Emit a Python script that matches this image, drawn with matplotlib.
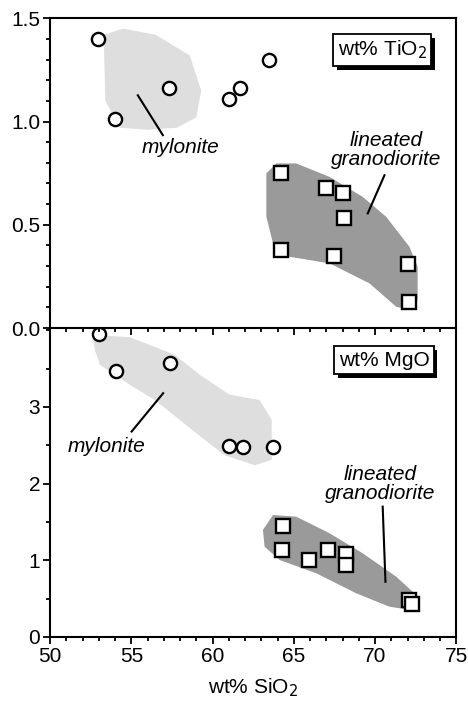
import matplotlib
matplotlib.use("Agg")
import matplotlib.pyplot as plt
import matplotlib.patheffects as pe
from matplotlib.patches import Polygon
from matplotlib.ticker import MultipleLocator

plt.rcParams['font.family'] = ['Liberation Sans', 'DejaVu Sans']

# ==== Data (wt% oxides) ====
# mylonite samples
myl_sio2_ti = [52.95, 54.0, 57.3, 61.0, 61.7, 63.5]
myl_tio2 = [1.40, 1.01, 1.16, 1.11, 1.16, 1.30]
myl_sio2_mg = [53.0, 54.05, 57.37, 61.0, 61.87, 63.7]
myl_mgo = [3.95, 3.47, 3.57, 2.49, 2.48, 2.48]

# lineated granodiorite samples
gd_sio2_ti = [64.23, 67.0, 68.0, 68.08, 64.23, 67.5, 72.0, 72.07]
gd_tio2 = [0.75, 0.676, 0.655, 0.531, 0.378, 0.349, 0.308, 0.127]
gd_sio2_mg = [64.33, 64.3, 65.93, 67.1, 68.2, 68.2, 72.1, 72.3]
gd_mgo = [1.45, 1.13, 1.0, 1.13, 1.08, 0.94, 0.48, 0.43]

# shaded fields (outline vertices, data coords)
myl_field_ti_x = [53.3, 54.5, 56.5, 58.6, 59.3, 59.0, 57.8, 56.0, 54.3, 53.4]
myl_field_ti_y = [1.42, 1.45, 1.42, 1.32, 1.15, 1.02, 0.97, 0.96, 0.97, 1.10]
gd_field_ti_x = [63.31, 63.93, 65.15, 67.2, 69.24, 70.68, 72.11, 72.62, 72.62, 72.22,
                 71.3, 69.66, 67.2, 64.74, 63.72, 63.31]
gd_field_ti_y = [0.749, 0.797, 0.797, 0.732, 0.635, 0.539, 0.394, 0.297, 0.136, 0.087,
                 0.103, 0.216, 0.313, 0.345, 0.41, 0.539]
myl_field_mg_x = [52.64, 54.91, 57.68, 59.21, 61.06, 62.9, 63.64, 63.64, 62.59, 60.75,
                  59.52, 57.99, 56.45, 54.91, 53.07, 52.76]
myl_field_mg_y = [3.94, 3.91, 3.68, 3.42, 3.16, 3.09, 2.83, 2.31, 2.24, 2.37,
                  2.57, 2.83, 3.09, 3.29, 3.55, 3.74]
gd_field_mg_x = [63.1, 63.72, 65.15, 67.2, 69.24, 71.3, 72.42, 72.73, 72.22, 70.88,
                 68.84, 66.38, 64.13, 63.2]
gd_field_mg_y = [1.396, 1.591, 1.569, 1.353, 1.092, 0.787, 0.57, 0.395, 0.352, 0.395,
                 0.57, 0.831, 1.004, 1.178]

# ==== Figure ====
fig = plt.figure(figsize=(4.68, 7.03), dpi=100)
ax2 = fig.add_axes([0.107, 0.0939, 0.868, 0.4395])
ax1 = fig.add_axes([0.107, 0.5334, 0.868, 0.4406], sharex=ax2)
ax2.patch.set_alpha(0)

MYL_COL = '#dedede'
GD_COL = '#9a9a9a'
FS = 15


def draw_panel(ax, mx, my, gx, gy, mfx, mfy, gfx, gfy):
    ax.add_patch(Polygon(list(zip(mfx, mfy)), closed=True, facecolor=MYL_COL,
                         edgecolor='none', zorder=1))
    ax.add_patch(Polygon(list(zip(gfx, gfy)), closed=True, facecolor=GD_COL,
                         edgecolor='none', zorder=1))
    ax.plot(mx, my, 'o', ms=9.5, mfc='white', mec='black', mew=1.7, zorder=3)
    ax.plot(gx, gy, 's', ms=9.5, mfc='white', mec='black', mew=1.7, zorder=3)
    for s in ax.spines.values():
        s.set_linewidth(1.5)
    ax.tick_params(which='both', direction='out', width=1.3, labelsize=FS,
                   top=False, right=False, pad=2)
    ax.tick_params(which='major', length=5)
    ax.tick_params(which='minor', length=3)
    ax.xaxis.set_minor_locator(MultipleLocator(1))


def label_box(ax, x, y, txt):
    ax.text(x, y, txt, transform=ax.transAxes, fontsize=FS, ha='center', va='center',
            zorder=5,
            bbox=dict(boxstyle='square,pad=0.22', facecolor='white', edgecolor='black',
                      linewidth=1.3,
                      path_effects=[pe.SimplePatchShadow(offset=(2.5, -2.5),
                                                         shadow_rgbFace='black', alpha=1),
                                    pe.Normal()]))


# ---- TiO2 ----
draw_panel(ax1, myl_sio2_ti, myl_tio2, gd_sio2_ti, gd_tio2,
           myl_field_ti_x, myl_field_ti_y, gd_field_ti_x, gd_field_ti_y)
ax1.set_ylim(0, 1.5)
ax1.yaxis.set_major_locator(MultipleLocator(0.5))
ax1.yaxis.set_minor_locator(MultipleLocator(0.1))
ax1.yaxis.set_major_formatter('{x:.1f}')
ax1.tick_params(axis='x', labelbottom=False)
label_box(ax1, 0.818, 0.897, 'wt% TiO$_2$')

ax1.text(58.05, 0.876, 'mylonite', fontsize=FS, style='italic', ha='center', va='center')
ax1.plot([55.4, 56.94], [1.127, 0.934], color='black', lw=1.5, zorder=2)
ax1.text(70.7, 0.861, 'lineated\ngranodiorite', fontsize=FS, style='italic',
         ha='center', va='center', linespacing=1.0)
ax1.plot([70.58, 69.55], [0.74, 0.555], color='black', lw=1.5, zorder=2)

# ---- MgO ----
draw_panel(ax2, myl_sio2_mg, myl_mgo, gd_sio2_mg, gd_mgo,
           myl_field_mg_x, myl_field_mg_y, gd_field_mg_x, gd_field_mg_y)
ax2.set_ylim(0, 4.03)
ax2.set_xlim(50, 75)
ax2.yaxis.set_minor_locator(MultipleLocator(0.5))
ax2.set_yticks([0, 1, 2, 3])
ax2.xaxis.set_major_locator(MultipleLocator(5))
ax2.spines['top'].set_visible(False)
label_box(ax2, 0.822, 0.896, 'wt% MgO')
ax2.set_xlabel('wt% SiO$_2$', fontsize=FS, labelpad=8)

ax2.text(53.48, 2.48, 'mylonite', fontsize=FS, style='italic', ha='center', va='center')
ax2.plot([56.96, 55.02], [3.18, 2.68], color='black', lw=1.5, zorder=2)
ax2.text(70.33, 1.99, 'lineated\ngranodiorite', fontsize=FS, style='italic',
         ha='center', va='center', linespacing=1.0)
ax2.plot([70.47, 70.64], [1.70, 0.72], color='black', lw=1.5, zorder=2)

fig.savefig('out.png', dpi=100)
